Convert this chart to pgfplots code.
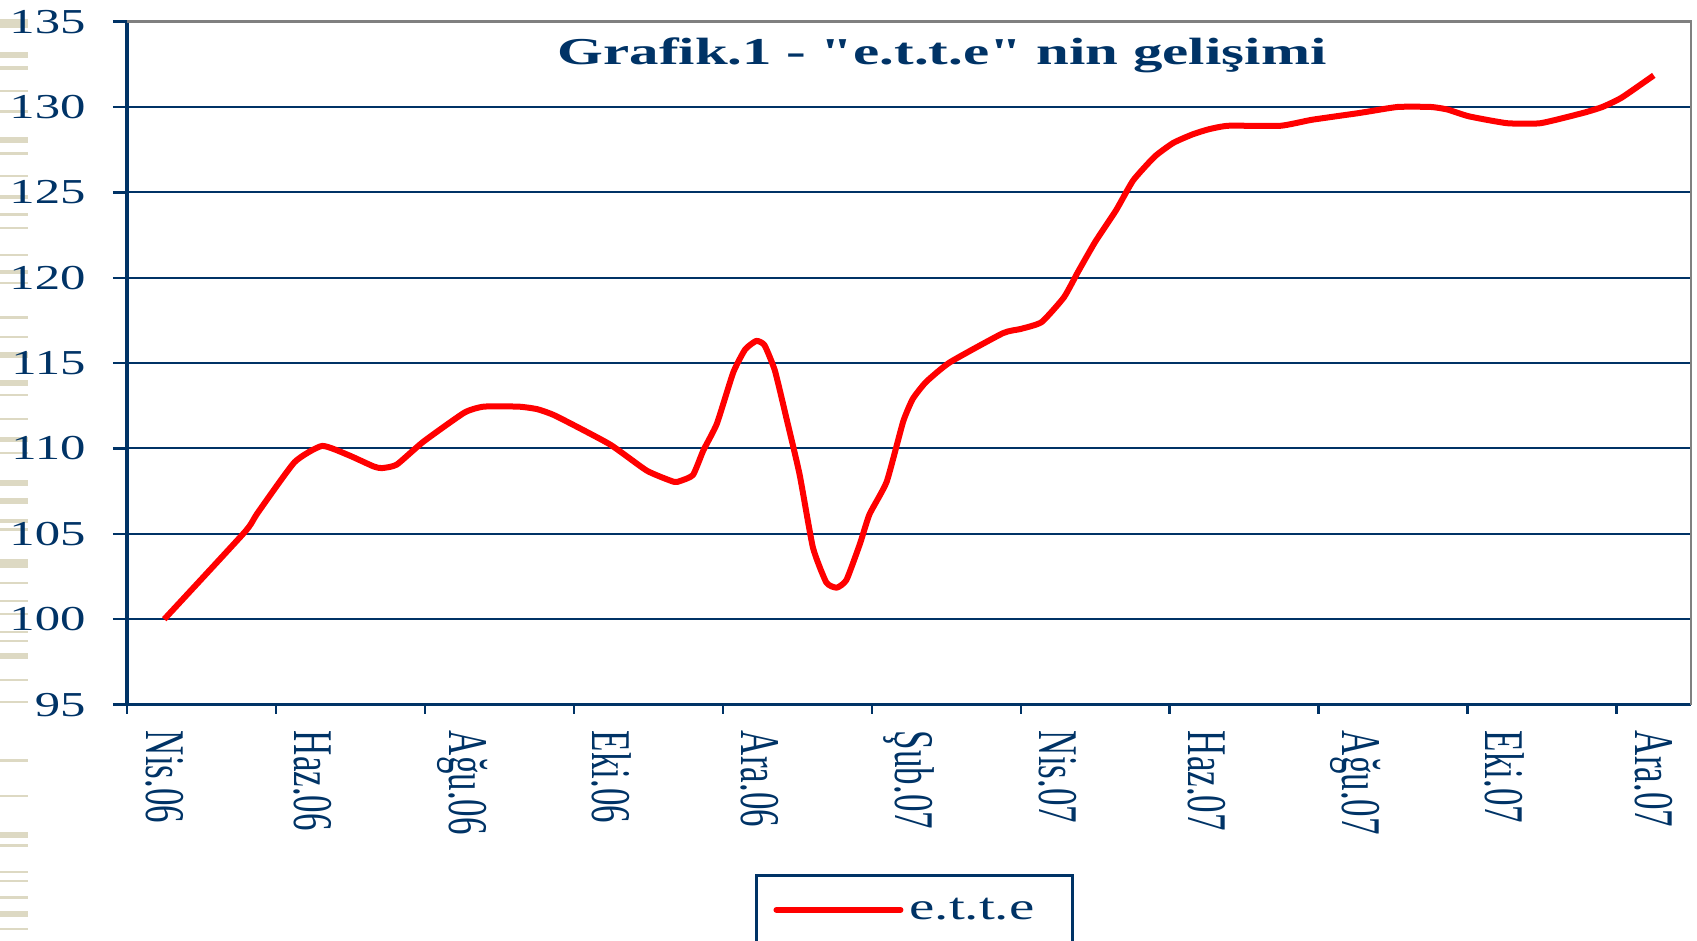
\documentclass[border=0pt]{standalone}
\usepackage{fontspec}
\setmainfont{Liberation Serif}
\newfontfamily\plainserif{Liberation Serif}
\usepackage{pgfplots}
\pgfplotsset{compat=1.18}
\usepackage{graphicx}
\definecolor{navy}{RGB}{0,51,102}
\definecolor{beige}{RGB}{221,217,195}
\definecolor{bordergray}{RGB}{128,128,128}
\newcommand{\hs}[1]{\scalebox{1.45}[1]{#1}}
\newcommand{\vs}[1]{\scalebox{1}[1.6]{#1}}

\pgfplotstableread{
m v
0.00 100.0
1.08 105.1
1.25 106.2
1.75 109.2
2.12 110.15
2.48 109.6
2.81 108.95
2.92 108.85
3.12 109.05
3.48 110.4
4.03 112.1
4.29 112.45
4.76 112.45
5.01 112.3
5.26 111.9
5.98 110.25
6.48 108.7
6.84 108.05
6.93 108.1
7.10 108.45
7.24 109.9
7.42 111.45
7.64 114.45
7.80 115.8
7.95 116.3
8.06 116.05
8.20 114.55
8.35 111.85
8.53 108.5
8.71 104.2
8.89 102.15
9.03 101.85
9.16 102.3
9.34 104.4
9.47 106.15
9.70 108.05
9.92 111.55
10.05 112.9
10.23 113.9
10.55 115.05
11.26 116.75
11.50 117.0
11.78 117.4
12.08 118.85
12.27 120.35
12.50 122.1
12.78 123.95
13.01 125.7
13.30 127.1
13.55 127.9
13.81 128.4
14.03 128.7
14.29 128.9
14.99 128.9
15.41 129.25
16.05 129.65
16.56 130.0
17.01 130.0
17.23 129.85
17.52 129.45
18.03 129.05
18.48 129.05
19.05 129.65
19.31 130.0
19.57 130.55
20.00 131.85
}\ettedata

\begin{document}
\begin{tikzpicture}[x=1pt,y=1pt]
\useasboundingbox (0,0) rectangle (848.5,-470.5);
% decorative strip on the left
\foreach \a/\b in {19/28, 52/58, 66/70, 90/92, 110/113, 137/143, 152/155, 175/177, 195/199, 213/216, 227/229, 254/256, 270/274, 282/284, 316/319, 336/338, 352/358, 380/386, 394/396, 418/420, 437/442, 452/454, 480/486, 498/504, 519/523, 528/531, 559/568, 582/584, 600/602, 613/615, 631/633, 640/642, 653/659, 679/681, 701/703, 759/762, 795/797, 832/838, 844/847, 871/873, 880/882, 896/899, 911/917, 928/930}
  {\fill[beige] (0,{-\a*0.5}) rectangle (14,{-\b*0.5});}
\begin{axis}[
  at={(63.5pt,-10.8pt)}, anchor=north west,
  width=782pt, height=341.5pt, scale only axis,
  xmin=-0.5, xmax=20.5, ymin=95, ymax=135,
  axis x line*=bottom, axis y line*=left,
  axis line style={navy, line width=1.6pt},
  ytick={95,100,...,135},
  yticklabel={\hs{\pgfmathprintnumber[assume math mode=true]{\tick}}},
  yticklabel style={font=\fontsize{17.5}{20}\selectfont, text=navy, anchor=east, inner sep=0pt, xshift=-13.5pt},
  xtick={-0.5,1.5,...,19.5},
  xticklabels={},
  extra x ticks={0,2,...,20},
  extra x tick labels={\vs{Nis.06},\vs{Haz.06},\vs{Ağu.06},\vs{Eki.06},\vs{Ara.06},\vs{Şub.07},\vs{Nis.07},\vs{Haz.07},\vs{Ağu.07},\vs{Eki.07},\vs{Ara.07}},
  extra x tick style={
    xtick style={draw=none},
    xticklabel style={font=\fontsize{17.5}{20}\selectfont, text=navy, rotate=-90, anchor=west, inner sep=0pt, xshift=5.9pt}},
  tick align=outside,
  major tick length=7pt,
  xtick style={navy, line width=1.2pt, /pgfplots/major tick length=4.5pt},
  ytick style={navy, line width=1.2pt},
  ymajorgrids,
  major y grid style={navy, line width=1pt},
  legend style={at={(0.4015,-0.2482)}, anchor=north west, draw=navy, line width=1.5pt,
    inner xsep=8.5pt, inner ysep=11pt, fill=white,
    font=\fontsize{19}{22}\selectfont, text=navy,
    nodes={inner sep=0pt}, column sep=3pt},
  legend image code/.code={\draw[#1, line width=3pt, line cap=round] (0pt,0pt) -- (62pt,0pt);},
  after end axis/.code={
    \draw[bordergray, line width=1.2pt] (rel axis cs:0,1) -- (rel axis cs:1,1) -- (rel axis cs:1,0);
  },
]
\addplot[red, line width=3pt, smooth, tension=0.3, line join=round] table[x=m, y=v] {\ettedata};
\addlegendentry{\scalebox{1.5}[1]{e.t.t.e}\kern10.5pt}
\end{axis}
\node[anchor=base, text=navy, font=\plainserif\fontsize{19}{22}\selectfont\bfseries] at (471,-32.5) {\scalebox{1.55}[1]{Grafik.1 - "e.t.t.e" nin gelişimi}};
\end{tikzpicture}
\end{document}
